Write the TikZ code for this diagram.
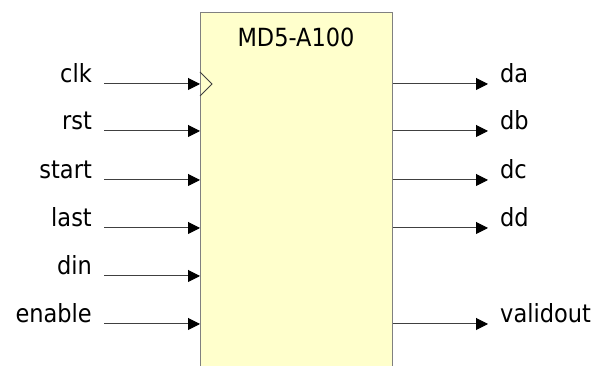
\documentclass[tikz,border=0pt]{standalone}
\usepackage{fontspec}
\setmainfont{DejaVu Sans Condensed}
\usetikzlibrary{arrows.meta}
\definecolor{boxfill}{HTML}{FFFFCC}
\definecolor{wire}{HTML}{404040}
\tikzset{
  sig/.style={draw=wire, line width=1pt, -{Triangle[length=12pt,width=12pt,color=black]}},
  lab/.style={inner sep=0pt, font=\fontsize{25}{30}\selectfont},
  blkstyle/.style={draw=gray, fill=boxfill, line width=1pt, inner sep=0pt}
}
\begin{document}
\begin{tikzpicture}[x=1pt,y=1pt]
\useasboundingbox (0,0) rectangle (597,366);
\clip (0,0) rectangle (597,366);
\node[blkstyle, minimum width=192pt, minimum height=374pt, anchor=north west] (blk) at (200,354) {};
\node[lab, anchor=base] (title) at (296,319) {MD5-A100};
% clock triangle
\coordinate (ck1) at (200,294);
\coordinate (ck2) at (212,282);
\coordinate (ck3) at (200,270);
\draw[wire, line width=0.8pt, line join=miter] (ck1) -- (ck2) -- (ck3);
% inputs
\foreach \name/\txt/\yy in {iclk/clk/282, irst/rst/235, istart/start/186, ilast/last/138, idin/din/90, ien/enable/42}{
  \node[lab, anchor=base east] (\name) at (92,\yy+1) {\txt};
  \coordinate (\name-s) at (104,\yy);
  \draw[sig] (\name-s) -- (\name-s -| blk.west);
}
% outputs
\foreach \name/\txt/\yy in {oda/da/282, odb/db/235, odc/dc/186, odd/dd/138, oval/validout/42}{
  \node[lab, anchor=base west] (\name) at (500,\yy+1) {\txt};
  \coordinate (\name-e) at (488,\yy);
  \draw[sig] (\name-e -| blk.east) -- (\name-e);
}
\end{tikzpicture}
\end{document}
